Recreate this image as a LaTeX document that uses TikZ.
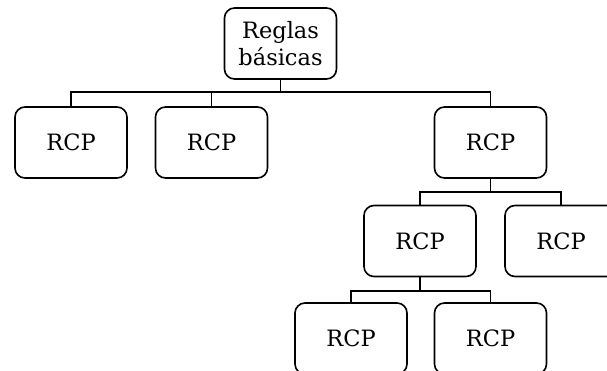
\documentclass[tikz,border=0pt]{standalone}
\usepackage{fontspec}
\setmainfont{DejaVu Serif}
\begin{document}
\begin{tikzpicture}[x=1pt,y=-1pt,
  box/.style={draw,line width=1.6pt,rounded corners=10pt,minimum width=112pt,minimum height=71pt,inner sep=0pt,align=center,font=\fontsize{22.5}{27}\selectfont},
  conn/.style={line width=1.6pt}]
\useasboundingbox (0,0) rectangle (607,370);
\clip (0,0) rectangle (607,370);
\node[box] (root) at (280.5,43.5) {Reglas\\básicas};
\node[box] (n1) at (71,142.5) {RCP};
\node[box] (n2) at (211.5,142.5) {RCP};
\node[box] (n3) at (490.5,142.5) {RCP};
\node[box] (n4) at (420,241) {RCP};
\node[box] (n5) at (561,241) {RCP};
\node[box] (n6) at (351,338.5) {RCP};
\node[box] (n7) at (490.5,338.5) {RCP};
\coordinate (b0) at (280.5,92);
\coordinate (b3) at (490.5,192);
\coordinate (b4) at (420,291);
\draw[conn] (root.south) -- (b0) -| (n1.north);
\draw[conn] (b0) -| (n2.north);
\draw[conn] (b0) -| (n3.north);
\draw[conn] (n3.south) -- (b3) -| (n4.north);
\draw[conn] (b3) -| (n5.north);
\draw[conn] (n4.south) -- (b4) -| (n6.north);
\draw[conn] (b4) -| (n7.north);
\end{tikzpicture}
\end{document}
